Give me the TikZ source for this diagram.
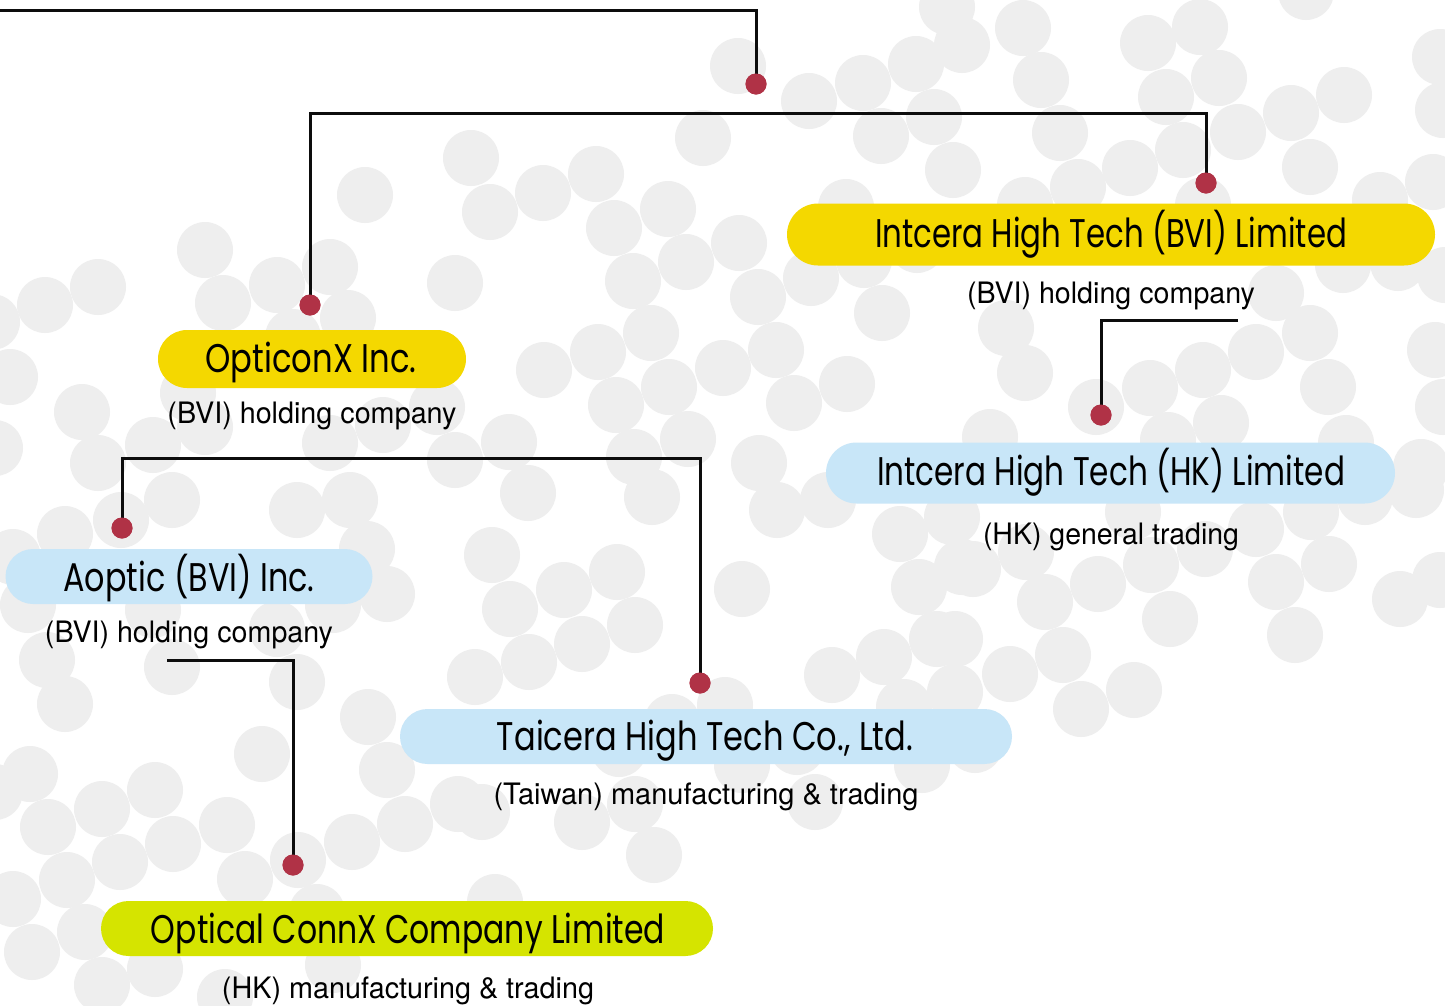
\documentclass[tikz,border=0pt]{standalone}
\usepackage{fontspec}
\usepackage{graphicx}
\newfontfamily\titlefont{Poppins}
\newfontfamily\subfont{TeX Gyre Heros}
\definecolor{pillyellow}{HTML}{F4D800}
\definecolor{pilllime}{HTML}{D5E400}
\definecolor{pillblue}{HTML}{C8E6F8}
\definecolor{dotred}{HTML}{B03246}
\definecolor{bubble}{HTML}{EEEEEE}
% company name, squeezed to a given width
\newcommand\cname[2]{\resizebox{#1pt}{\height}{\titlefont\fontsize{40}{40}\selectfont #2}}
% activity line under a company
\newcommand\cact[2]{\resizebox{#1pt}{\height}{\subfont\fontsize{29.5}{29.5}\selectfont #2}}
\tikzset{
  pill/.style={rectangle, inner sep=0pt, fill=#1, draw=none},
  ctitle/.style={anchor=base, inner sep=0pt, text=black},
  csub/.style={anchor=base, inner sep=0pt, text=black},
  knob/.style={circle, fill=dotred, inner sep=0pt, minimum size=21pt},
  link/.style={line width=3pt, draw=black!95, line join=miter},
}
\begin{document}
\begin{tikzpicture}[x=1pt,y=-1pt]
\useasboundingbox (0,0) rectangle (1445,1005);
\clip (0,0) rectangle (1445,1005);
\fill[white] (0,0) rectangle (1445,1005);
% scattered bubbles
\foreach \bx/\by in {
 471/158,365/195,490/212,205/250,455/283,330/267,277/285,223/303,98/287,45/305,
 -8/322,348/318,293/337,10/377,188/393,82/412,437/407,205/427,153/445,98/463,
 330/443,383/425,455/460,172/500,350/500,297/510,121/520,-5/448,
 65/534,13/557,367/549,387/594,28/605,153/610,277/629,333/605,47/660,172/667,
 297/682,65/704,492/555,475/677,368/717,262/754,30/774,155/790,102/809,48/827,
 227/825,387/770,458/804,405/824,352/842,173/844,120/862,67/880,13/899,245/879,
 298/860,317/912,85/932,32/952,155/969,102/985,333/965,-5/792,225/997,
 738/66,809/101,863/83,916/64,962/45,947/7,934/117,881/136,953/170,703/138,
 543/193,596/174,614/228,668/209,686/262,739/243,633/281,758/297,811/278,864/260,
 846/207,882/313,917/245,651/333,598/352,544/370,616/405,669/387,723/368,776/350,
 794/403,847/384,509/442,634/457,688/439,759/463,528/493,652/497,777/510,828/500,
 1023/28,1041/80,1148/43,1200/27,1306/-8,1166/97,1219/78,1291/113,1344/95,1440/57,
 1238/132,1310/167,1060/133,1183/150,1130/168,1078/187,1025/205,1203/205,1380/200,1433/182,
 1443/110,1398/263,1343/265,1006/328,1025/373,1096/407,1150/388,1203/370,1256/352,1310/333,
 1328/387,1221/423,1168/440,1435/350,1443/407,1421/467,1346/443,990/437,1276/293,1445/275,
 1256/529,1311/512,1365/497,1416/490,1133/512,1026/552,973/569,1098/584,1151/565,1205/549,
 1045/602,1170/619,1276/582,1329/564,1295/635,1400/599,1440/580,1063/655,1010/674,955/639,
 955/692,1081/709,1134/690,975/745,
 900/534,952/517,962/567,919/587,937/639,884/657,832/675,904/707,742/589,
 564/590,617/572,510/609,635/625,582/644,529/662,725/705,672/722,619/749,742/765,
 797/747,922/765,815/802,635/804,582/822,654/855,495/902,482/812}
  \fill[bubble] (\bx,\by) circle (28pt);

% junction points of the connectors
\coordinate (rootL) at (0,10);
\coordinate (rootC) at (756,10);
\coordinate (barL) at (310,113);
\coordinate (barR) at (1206,113);
\coordinate (ibA) at (1238,320);
\coordinate (ibB) at (1101,320);
\coordinate (opL) at (122,458);
\coordinate (opR) at (700,458);
\coordinate (aoA) at (167,660);
\coordinate (aoB) at (293,660);

% knobs where the lines end
\node[knob] (k0) at (756,84) {};
\node[knob] (kop) at (310,305) {};
\node[knob] (kib) at (1206,183) {};
\node[knob] (kih) at (1101,415) {};
\node[knob] (kao) at (122,528) {};
\node[knob] (kta) at (700,683) {};
\node[knob] (koc) at (293,865) {};

% connectors
\draw[link] (rootL) -- (rootC) -- (k0.center);
\draw[link] (kop.center) -- (barL) -- (barR) -- (kib.center);
\draw[link] (ibA) -- (ibB) -- (kih.center);
\draw[link] (kao.center) -- (opL) -- (opR) -- (kta.center);
\draw[link] (aoA) -- (aoB) -- (koc.center);
\foreach \k in {k0,kop,kib,kih,kao,kta,koc}
  \node[knob] at (\k) {};

% company pills
\node[pill=pillyellow, minimum width=648pt, minimum height=62pt, rounded corners=31pt] (ib) at (1111,234.5) {};
\node[pill=pillblue, minimum width=569pt, minimum height=61pt, rounded corners=30.5pt] (ih) at (1110.5,473) {};
\node[pill=pillyellow, minimum width=308pt, minimum height=58pt, rounded corners=29pt] (op) at (312,359) {};
\node[pill=pillblue, minimum width=367pt, minimum height=55pt, rounded corners=27.5pt] (ao) at (189,576.5) {};
\node[pill=pillblue, minimum width=612pt, minimum height=55pt, rounded corners=27.5pt] (ta) at (706,736.5) {};
\node[pill=pilllime, minimum width=612pt, minimum height=55pt, rounded corners=27.5pt] (oc) at (407,928.5) {};

% company names
\node[ctitle] (ibt) at (1111,247) {\cname{472}{Intcera High Tech (BVI) Limited}};
\node[ctitle] (iht) at (1111,485) {\cname{468}{Intcera High Tech (HK) Limited}};
\node[ctitle] (opt) at (311,372) {\cname{211}{OpticonX Inc.}};
\node[ctitle] (aot) at (189,591) {\cname{251}{Aoptic (BVI) Inc.}};
\node[ctitle] (tat) at (705,750) {\cname{416}{Taicera High Tech Co., Ltd.}};
\node[ctitle] (oct) at (408,943) {\cname{514}{Optical ConnX Company Limited}};

% activities
\node[csub] (ibs) at (1111,303) {\cact{288}{(BVI) holding company}};
\node[csub] (ihs) at (1111,544) {\cact{256}{(HK) general trading}};
\node[csub] (ops) at (312,423) {\cact{289}{(BVI) holding company}};
\node[csub] (aos) at (189,642) {\cact{288}{(BVI) holding company}};
\node[csub] (tas) at (706,804) {\cact{425}{(Taiwan) manufacturing \& trading}};
\node[csub] (ocs) at (408,998) {\cact{372}{(HK) manufacturing \& trading}};
\end{tikzpicture}
\end{document}
